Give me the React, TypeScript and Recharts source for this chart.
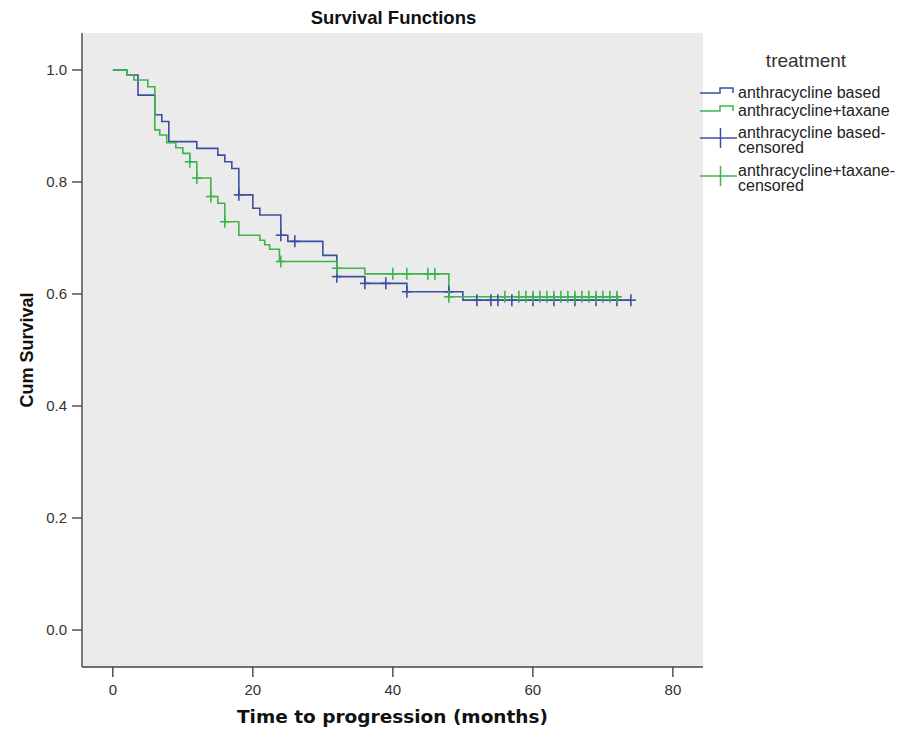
import React from 'react';
import { ComposedChart, Line, Scatter, XAxis, YAxis, CartesianGrid } from 'recharts';

// Kaplan-Meier step values: t = months, s = cum survival
const BLUE_STEPS = [
  { t: 0, s: 1.0 }, { t: 2, s: 0.991 }, { t: 3.6, s: 0.955 }, { t: 6, s: 0.92 },
  { t: 7, s: 0.908 }, { t: 8, s: 0.872 }, { t: 12, s: 0.86 }, { t: 15, s: 0.848 },
  { t: 16, s: 0.836 }, { t: 17, s: 0.824 }, { t: 18, s: 0.777 }, { t: 20, s: 0.753 },
  { t: 21, s: 0.741 }, { t: 24, s: 0.705 }, { t: 25, s: 0.694 }, { t: 30, s: 0.669 },
  { t: 32, s: 0.631 }, { t: 36, s: 0.619 }, { t: 42, s: 0.604 }, { t: 50, s: 0.589 },
  { t: 74, s: 0.589 },
];

const GREEN_STEPS = [
  { t: 0, s: 1.0 }, { t: 2, s: 0.991 }, { t: 3, s: 0.982 }, { t: 5, s: 0.97 },
  { t: 6, s: 0.893 }, { t: 6.7, s: 0.884 }, { t: 7.7, s: 0.87 }, { t: 9, s: 0.861 },
  { t: 10, s: 0.851 }, { t: 11, s: 0.836 }, { t: 12, s: 0.807 }, { t: 14, s: 0.774 },
  { t: 15, s: 0.762 }, { t: 16, s: 0.729 }, { t: 18, s: 0.705 }, { t: 21, s: 0.696 },
  { t: 21.7, s: 0.688 }, { t: 22.4, s: 0.68 }, { t: 23.8, s: 0.658 }, { t: 32, s: 0.646 },
  { t: 36, s: 0.636 }, { t: 48, s: 0.595 }, { t: 72.5, s: 0.595 },
];

// censoring times
const BLUE_CENSORED = [18, 24, 26, 32, 36, 39, 42, 48, 52, 54, 55, 57, 60, 63, 66, 69, 72, 74];
const GREEN_CENSORED = [11, 12, 14, 16, 24, 32, 40, 42, 45, 46, 48, 56, 58, 59, 60, 61, 62, 63,
  64, 65, 66, 67, 68, 69, 70, 71, 72];

const X_TICKS = [0, 20, 40, 60, 80];
const Y_TICKS = [0, 0.2, 0.4, 0.6, 0.8, 1.0];

const BLUE = '#3d4fa3';
const GREEN = '#3db54a';
const FONT = '"Liberation Sans", Arial, sans-serif';

const LEGEND_ITEMS = [
  { kind: 'step', color: BLUE, top: 92, lines: ['anthracycline based'] },
  { kind: 'step', color: GREEN, top: 110, lines: ['anthracycline+taxane'] },
  { kind: 'cross', color: BLUE, top: 132, lines: ['anthracycline based-', 'censored'] },
  { kind: 'cross', color: GREEN, top: 170, lines: ['anthracycline+taxane-', 'censored'] },
];

// survival level at time t on a step curve
const levelAt = (steps: { t: number; s: number }[], t: number) => {
  let s = steps[0].s;
  for (const p of steps) if (p.t <= t) s = p.s;
  return s;
};

const blueMarks = BLUE_CENSORED.map((t) => ({ t, s: levelAt(BLUE_STEPS, t) }));
const greenMarks = GREEN_CENSORED.map((t) => ({ t, s: levelAt(GREEN_STEPS, t) }));

const crossShape = (color: string) => (props: any) => {
  const { cx, cy } = props;
  return (
    <g stroke={color} strokeWidth={1.6}>
      <line x1={cx} y1={cy - 6} x2={cx} y2={cy + 6} />
      <line x1={cx - 5} y1={cy} x2={cx + 5} y2={cy} />
    </g>
  );
};

const SideLegend = () => (
  <svg width={206} height={200} style={{ position: 'absolute', left: 700, top: 0 }}>
    <text x={106} y={60} textAnchor="middle" dominantBaseline="central"
      fontFamily={FONT} fontSize={19} fill="#333">treatment</text>
    {LEGEND_ITEMS.map((item, i) => {
      const mid = item.top + (item.lines.length - 1) * 6;
      return (
        <g key={i}>
          {item.kind === 'step' ? (
            <polyline points={`0,${mid + 1} 20,${mid + 1} 20,${mid - 4} 33,${mid - 4} 33,${mid + 1}`}
              fill="none" stroke={item.color} strokeWidth={1.5} />
          ) : (
            <g stroke={item.color} strokeWidth={1.5}>
              <line x1={0} y1={mid} x2={37} y2={mid} />
              <line x1={20.5} y1={mid - 10} x2={20.5} y2={mid + 10} />
            </g>
          )}
          {item.lines.map((l, j) => (
            <text key={j} x={38} y={item.top + j * 15.5} fontFamily={FONT} fontSize={16}
              fill="#222" dominantBaseline="central">{l}</text>
          ))}
        </g>
      );
    })}
  </svg>
);

export default function App() {
  const tickStyle = { fontFamily: FONT, fontSize: 15, fill: '#333' };
  return (
    <div style={{ position: 'absolute', left: 0, top: 0, width: 906, height: 734, background: '#fff' }}>
      <div style={{
        position: 'absolute', left: 82, top: 8, width: 623, textAlign: 'center',
        fontFamily: FONT, fontWeight: 'bold', fontSize: 18.5, lineHeight: '20px', color: '#111',
      }}>
        Survival Functions
      </div>
      <ComposedChart width={906} height={734} margin={{ top: 33, right: 203, bottom: 27, left: 0 }}>
        <CartesianGrid fill="#ebebeb" horizontal={false} vertical={false} />
        <XAxis dataKey="t" type="number" domain={[-4.4, 84.3]} ticks={X_TICKS} height={40}
          tickSize={10} tickMargin={7} tick={tickStyle} stroke="#444" strokeWidth={1.4}
          allowDataOverflow
          label={{
            value: 'Time to progression (months)', position: 'bottom', offset: 3,
            style: { fontFamily: '"DejaVu Sans", sans-serif', fontWeight: 'bold', fontSize: 18.5, fill: '#111' },
          }} />
        <XAxis xAxisId="top" orientation="top" type="number" domain={[-4.4, 84.3]} height={0}
          tick={false} tickLine={false} stroke="#444" strokeWidth={1.4} />
        <YAxis dataKey="s" type="number" domain={[-0.066, 1.066]} ticks={Y_TICKS} width={82}
          tickSize={10} tickMargin={5} tick={tickStyle} stroke="#444" strokeWidth={1.4}
          allowDataOverflow tickFormatter={(v: number) => v.toFixed(1)}
          label={{
            content: (p: any) => {
              const cy = p.viewBox.y + p.viewBox.height / 2;
              return (
                <text x={27} y={cy} transform={`rotate(-90 27 ${cy})`} textAnchor="middle"
                  dominantBaseline="central" fontFamily={FONT} fontWeight="bold" fontSize={18} fill="#111">
                  Cum Survival
                </text>
              );
            },
          }} />
        <YAxis yAxisId="right" orientation="right" type="number" domain={[-0.066, 1.066]} width={0}
          tick={false} tickLine={false} stroke="#444" strokeWidth={1.4} />
        <Line data={BLUE_STEPS} dataKey="s" type="stepAfter" stroke={BLUE} strokeWidth={1.6}
          dot={false} activeDot={false} isAnimationActive={false} />
        <Line data={GREEN_STEPS} dataKey="s" type="stepAfter" stroke={GREEN} strokeWidth={1.6}
          dot={false} activeDot={false} isAnimationActive={false} />
        <Scatter data={blueMarks} dataKey="s" shape={crossShape(BLUE)} isAnimationActive={false} />
        <Scatter data={greenMarks} dataKey="s" shape={crossShape(GREEN)} isAnimationActive={false} />
      </ComposedChart>
      <SideLegend />
    </div>
  );
}
